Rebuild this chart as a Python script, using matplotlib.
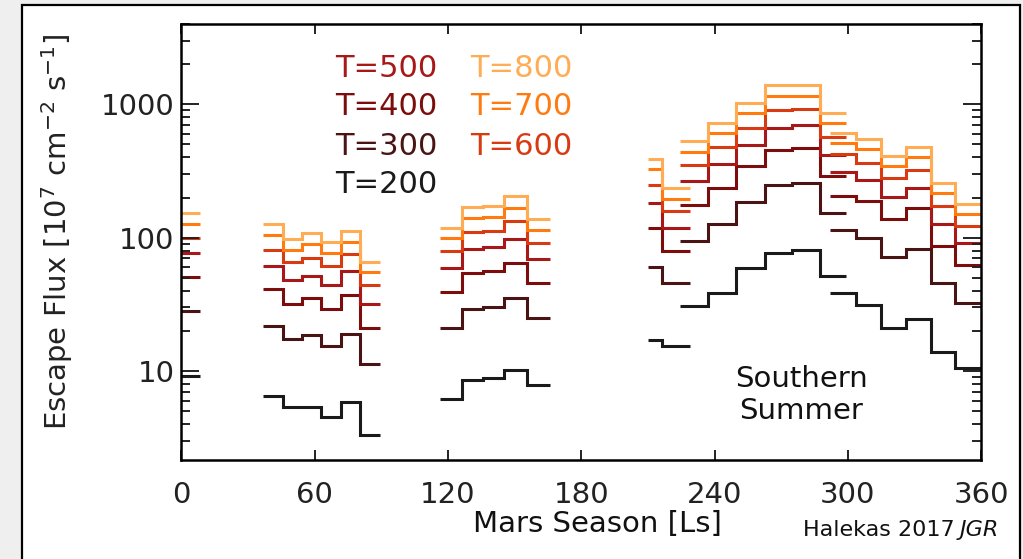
import numpy as np
import matplotlib.pyplot as plt
from matplotlib.patches import Rectangle
from matplotlib.ticker import LogLocator, NullFormatter

temps = [200, 300, 400, 500, 600, 700, 800]
colors = ['#1a1a1a', '#4b1414', '#7d0c0c', '#a81818', '#d83a12', '#ff7b0f', '#ffad55']

# Ls bin edges and escape flux per bin, rows ordered T=200 ... T=800
ls_0 = [0, 8.3]
flux_0 = [[9.2], [28.4], [51], [77], [100], [127], [153]]

ls_1 = [36.8, 45.5, 54.2, 63.0, 71.8, 80.6, 89.3]
flux_1 = [[6.5, 5.4, 5.4, 4.5, 5.9, 3.3],
          [21.8, 17.3, 18.7, 15.5, 18.9, 11.3],
          [41, 32, 35, 29, 37, 21],
          [61, 48, 52, 44, 56, 32],
          [81, 66, 70, 61, 75, 44],
          [104, 81, 90, 77, 93, 55],
          [127, 98, 108, 93, 113, 66]]

ls_2 = [116.3, 126.1, 135.8, 145.3, 155.6, 165.9]
flux_2 = [[6.2, 8.6, 8.9, 10.2, 7.8],
          [21, 29, 30, 35, 25],
          [39, 54, 56, 65, 46],
          [59, 82, 85, 98, 69],
          [80, 110, 113, 133, 92],
          [99, 141, 143, 166, 115],
          [118, 169, 174, 205, 138]]

ls_3 = [210.1, 216.3, 228.8]
flux_3 = [[17.1, 15.4],
          [60, 46],
          [118, 80],
          [182, 118],
          [250, 158],
          [325, 195],
          [391, 236]]

ls_4 = [224.6, 237.1, 249.5, 262.6, 275.0, 287.3, 299.2]
flux_4 = [[31, 38.8, 59, 77, 81, 52],
          [95, 127, 184, 250, 258, 153],
          [176, 236, 344, 453, 469, 289],
          [268, 354, 492, 668, 695, 414],
          [350, 481, 668, 901, 917, 568],
          [442, 613, 856, 1154, 1154, 728],
          [527, 728, 1030, 1390, 1390, 866]]

ls_5 = [291.8, 303.9, 315.1, 326.1, 337.3, 348.1, 360]
flux_5 = [[38.4, 31.4, 21.1, 24.7, 14, 10.5],
          [115, 99.5, 72, 82, 46, 32.6],
          [207, 188, 138, 168, 86, 62],
          [310, 270, 203, 236, 127, 91],
          [421, 364, 281, 321, 172, 122],
          [515, 459, 344, 401, 217, 151],
          [613, 546, 409, 479, 258, 180]]

segments = [(ls_0, flux_0), (ls_1, flux_1), (ls_2, flux_2),
            (ls_3, flux_3), (ls_4, flux_4), (ls_5, flux_5)]

fig = plt.figure(figsize=(10.23, 5.59), dpi=100)
fig.patch.set_facecolor('#efefef')
fig.add_artist(Rectangle((22 / 1023, -0.01), 998 / 1023, 1.01 - 5 / 559,
                         transform=fig.transFigure, facecolor='white',
                         edgecolor='black', lw=1.6, zorder=-1))

ax = fig.add_axes([0.1774, 0.177, 0.7816, 0.780])

for edges, flux in segments:
    for i in range(len(temps)):
        ax.stairs(flux[i], edges, baseline=None, color=colors[i], lw=2.2)

ax.set_yscale('log')
ax.set_xlim(0, 360)
ax.set_ylim(2.15, 4000)
ax.set_xticks(np.arange(0, 361, 60))
ax.set_yticks([10, 100, 1000])
ax.set_yticklabels(['10', '100', '1000'])
ax.yaxis.set_minor_locator(LogLocator(base=10, subs=np.arange(2, 10)))
ax.yaxis.set_minor_formatter(NullFormatter())

for s in ax.spines.values():
    s.set_linewidth(1.8)
ax.tick_params(axis='both', which='both', direction='in', top=True, right=True,
               width=1.4, labelsize=21, colors='#222222')
ax.tick_params(axis='x', which='major', length=7, pad=15)
ax.tick_params(axis='y', which='major', length=13, pad=5)
ax.tick_params(axis='y', which='minor', length=6.5)

fig.text(57 / 1023, 1 - 232 / 559, 'Escape Flux [10$^7$ cm$^{-2}$ s$^{-1}$]',
         rotation=90, ha='center', va='center', fontsize=21, color='#222222')
fig.text(597 / 1023, 1 - 524 / 559, 'Mars Season [Ls]',
         ha='center', va='center', fontsize=21, color='#111111')
fig.text(955 / 1023, 1 - 530 / 559, 'Halekas 2017', ha='right', va='center',
         fontsize=16, color='#111111')
fig.text(960 / 1023, 1 - 530 / 559, 'JGR', ha='left', va='center',
         fontsize=16, style='italic', color='#111111')

# temperature key, two columns
key_rows = [0.899, 0.812, 0.720, 0.631]
for i, t in enumerate([500, 400, 300, 200]):
    ax.text(0.192, key_rows[i], 'T=%d' % t, transform=ax.transAxes,
            ha='left', va='center', fontsize=22, color=colors[temps.index(t)])
for i, t in enumerate([800, 700, 600]):
    ax.text(0.361, key_rows[i], 'T=%d' % t, transform=ax.transAxes,
            ha='left', va='center', fontsize=22, color=colors[temps.index(t)])

ax.text(0.775, 0.149, 'Southern\nSummer', transform=ax.transAxes,
        ha='center', va='center', fontsize=21, color='#111111', linespacing=1.15)

fig.savefig('out.png', dpi=100, facecolor=fig.get_facecolor())
